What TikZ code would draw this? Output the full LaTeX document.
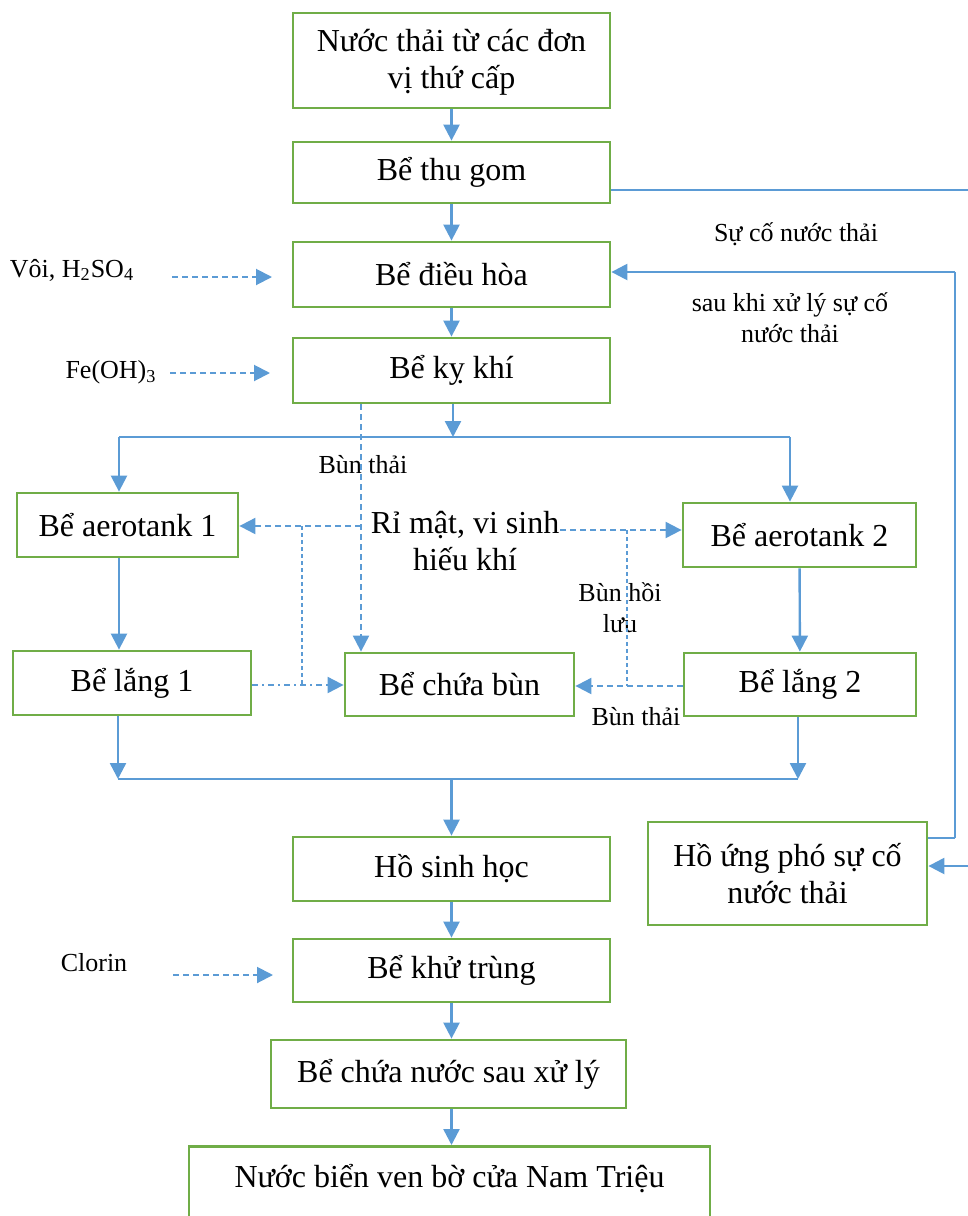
\documentclass[tikz,border=0pt]{standalone}
\usepackage{fontspec}
\setmainfont{Liberation Serif}
\usetikzlibrary{arrows.meta,calc}
\definecolor{lblue}{HTML}{5B9BD5}
\definecolor{lgreen}{HTML}{70AD47}
\newcommand{\bigtxt}{\fontsize{16}{18.5}\selectfont}
\newcommand{\smalltxt}{\fontsize{13}{15.5}\selectfont}
\begin{document}
\begin{tikzpicture}[x=0.5pt,y=-0.5pt,
  box/.style={draw=lgreen,line width=1.4pt,inner sep=0pt,align=center,font=\bigtxt},
  lbl/.style={inner sep=0pt,align=center,font=\smalltxt},
  arr/.style={draw=lblue,line width=1.2pt,-{Triangle[length=8pt,width=8pt]}},
  thinl/.style={draw=lblue,line width=0.7pt},
  darr/.style={draw=lblue,line width=1pt,dash pattern=on 3pt off 2pt,-{Triangle[length=8pt,width=8pt]}},
  ddarr/.style={draw=lblue,line width=1pt,dash pattern=on 3pt off 2pt on 1pt off 2pt,-{Triangle[length=8pt,width=8pt]}},
  dotl/.style={draw=lblue,line width=0.6pt,dash pattern=on 2pt off 1.5pt}]
\useasboundingbox (0,0) rectangle (968,1216);
% boxes
\node[box,minimum width=158.5pt,minimum height=47.5pt] (n1) at (451.5,60.5) {\strut Nước thải từ các đơn\\vị thứ cấp};
\node[box,minimum width=158.5pt,minimum height=30.5pt] (n2) at (451.5,172.5) {Bể thu gom};
\node[box,minimum width=158.5pt,minimum height=32.5pt] (n3) at (451.5,274.5) {Bể điều hòa};
\node[box,minimum width=158.5pt,minimum height=32.5pt] (n4) at (451.5,370.5) {Bể kỵ khí};
\node[box,minimum width=110.5pt,minimum height=32pt] (n5) at (127.5,525) {Bể aerotank 1};
\node[box,minimum width=116.5pt,minimum height=32pt] (n6) at (799.5,535) {Bể aerotank 2};
\node[box,minimum width=119pt,minimum height=32pt] (n7) at (132,683) {Bể lắng 1};
\node[box,minimum width=114.5pt,minimum height=31.5pt] (n8) at (459.5,684.5) {Bể chứa bùn};
\node[box,minimum width=116pt,minimum height=31.5pt] (n9) at (800,684.5) {Bể lắng 2};
\node[box,minimum width=158.5pt,minimum height=32pt] (n10) at (451.5,869) {Hồ sinh học};
\node[box,minimum width=139.5pt,minimum height=51.5pt] (n11) at (787.5,873.5) {Hồ ứng phó sự cố\\nước thải};
\node[box,minimum width=158.5pt,minimum height=31.5pt] (n12) at (451.5,970.5) {Bể khử trùng};
\node[box,minimum width=177.5pt,minimum height=34pt] (n13) at (448.5,1074) {Bể chứa nước sau xử lý};
\node[box,minimum width=260.5pt,anchor=north,text height=20.5pt,text depth=50pt] (n14) at (449.5,1145) {Nước biển ven bờ cửa Nam Triệu};
% labels
\node[lbl] (t1) at (72,270) {Vôi, H\textsubscript{2}SO\textsubscript{4}};
\node[lbl] (t2) at (111,372) {Fe(OH)\textsubscript{3}};
\node[lbl] (t3) at (94,963) {Clorin};
\node[lbl] (t4) at (363,465) {Bùn thải};
\node[inner sep=0pt,align=center,font=\bigtxt] (rimat) at (465,541) {Rỉ mật, vi sinh\\hiếu khí};
\node[lbl] (t5) at (620,608) {Bùn hồi\\lưu};
\node[lbl] (t6) at (636,717) {Bùn thải};
\node[lbl] (t7) at (796,234) {Sự cố nước thải};
\node[lbl] (t8) at (790,318) {sau khi xử lý sự cố\\nước thải};
% coordinates
\coordinate (split1) at (453,437);
\coordinate (L1) at (119,437);
\coordinate (R1) at (790,437);
\coordinate (L2) at (118,779);
\coordinate (R2) at (798,779);
\coordinate (dv) at (361,526);
\coordinate (dr) at (560,530);
\coordinate (dl1) at (302,526);
\coordinate (dl2) at (302,685);
\coordinate (dr1) at (627,530);
\coordinate (dr2) at (627,686);
\coordinate (c1s) at (172,277);
\coordinate (c1e) at (272,277);
\coordinate (c2s) at (170,373);
\coordinate (c2e) at (270,373);
\coordinate (c3s) at (173,975);
\coordinate (c3e) at (273,975);
\coordinate (tg) at (975,190);
\coordinate (rt) at (955,272);
\coordinate (rb) at (955,838);
\coordinate (inc) at (975,866);
% main flow
\draw[arr] (n1) -- (n2);
\draw[arr] (n2) -- (n3);
\draw[arr] (n3) -- (n4);
\draw[arr] (n4.south -| split1) -- (split1);
\draw[thinl] (L1) -- (R1);
\draw[arr] (L1) -- (L1 |- n5.north);
\draw[arr] (R1) -- (R1 |- n6.north);
\draw[arr] (n5.south -| L1) -- (n7.north -| L1);
\draw[arr] (n6) -- (n9);
\draw[arr] (n7.south -| L2) -- (L2);
\draw[arr] (n9.south -| R2) -- (R2);
\draw[thinl] (L2) -- (R2);
\draw[arr] (n10.north |- L2) -- (n10.north);
\draw[arr] (n10) -- (n12);
\draw[arr] (n12) -- (n13.north -| n12.south);
\draw[arr] (n13.south -| n12.south) -- (n14.north -| n12.south);
% sludge / dashed
\draw[darr] (n4.south -| dv) -- (n8.north -| dv);
\draw[darr] (dv) -- (n5.east |- dv);
\draw[darr] (dr) -- (n6.west |- dr);
\draw[dotl] (dl1) -- (dl2);
\draw[dotl] (dr1) -- (dr2);
\draw[ddarr] (n7.east |- dl2) -- (n8.west |- dl2);
\draw[darr] (n9.west |- dr2) -- (n8.east |- dr2);
% chemicals
\draw[darr] (c1s) -- (c1e);
\draw[darr] (c2s) -- (c2e);
\draw[darr] (c3s) -- (c3e);
% emergency loop
\draw[thinl] (tg -| n2.east) -- (tg);
\draw[arr] (rt) -- (rt -| n3.east);
\draw[thinl] (rb) -- (rt);
\draw[thinl] (rb) -- (rb -| n11.east);
\draw[arr] (inc) -- (inc -| n11.east);
\end{tikzpicture}
\end{document}
